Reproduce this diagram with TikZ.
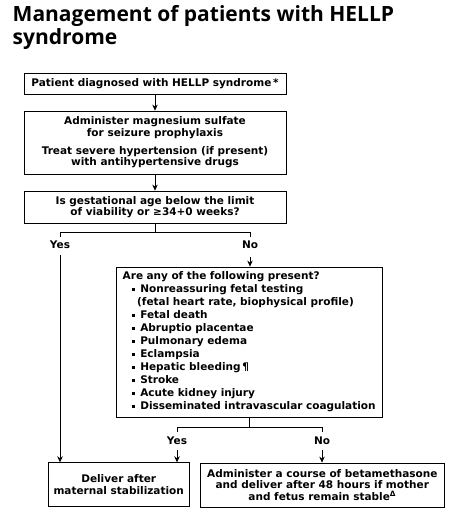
\documentclass[tikz,border=0pt]{standalone}
\usepackage{fontspec}
\setmainfont{DejaVu Sans}
\newfontfamily\titlefont{Open Sans}
\usetikzlibrary{arrows.meta}
\newcommand{\bul}{\rule[1.6pt]{3.6pt}{3.4pt}}
\tikzset{
  box/.style={draw, line width=0.8pt, inner sep=2pt, align=center,
    font=\bfseries\fontsize{10.5}{11.3}\selectfont},
  conn/.style={line width=0.8pt},
  arr/.style={conn, -{Stealth[length=6pt,width=5.5pt]}},
  lbl/.style={font=\bfseries\fontsize{10.5}{12}\selectfont, inner sep=0pt},
  ttl/.style={font=\titlefont\bfseries\fontsize{21}{24}\selectfont, inner sep=0pt, anchor=base west}
}
\begin{document}
\begin{tikzpicture}[x=1pt,y=-1pt]
\useasboundingbox[fill=white] (0,0) rectangle (455,515);
\node[ttl] (t1) at (12.5,21) {Management of patients with HELLP};
\node[ttl] (t2) at (12.5,44) {syndrome};

\node[box, minimum width=262pt, minimum height=21pt] (b1) at (155,83.5) {Patient diagnosed with HELLP syndrome\,*};
\node[box, minimum width=262pt, minimum height=63pt] (b2) at (155,142.5) {Administer magnesium sulfate\\for seizure prophylaxis\\[7pt]Treat severe hypertension (if present)\\with antihypertensive drugs};
\node[box, minimum width=262pt, minimum height=32pt] (b3) at (155,207) {Is gestational age below the limit\\of viability or ≥34+0 weeks?};

\node[box, align=left, text width=254pt, inner xsep=6pt, minimum height=150pt,
  font=\bfseries\fontsize{10.5}{13}\selectfont] (b4) at (249.7,342) {Are any of the following present?\\
\hspace*{9pt}\bul\hspace{5pt}Nonreassuring fetal testing\\
\hspace*{14.5pt}(fetal heart rate, biophysical profile)\\
\hspace*{9pt}\bul\hspace{5pt}Fetal death\\
\hspace*{9pt}\bul\hspace{5pt}Abruptio placentae\\
\hspace*{9pt}\bul\hspace{5pt}Pulmonary edema\\
\hspace*{9pt}\bul\hspace{5pt}Eclampsia\\
\hspace*{9pt}\bul\hspace{5pt}Hepatic bleeding\,¶\\
\hspace*{9pt}\bul\hspace{5pt}Stroke\\
\hspace*{9pt}\bul\hspace{5pt}Acute kidney injury\\
\hspace*{9pt}\bul\hspace{5pt}Disseminated intravascular coagulation};

\node[box, minimum width=140.7pt, minimum height=44pt] (b5) at (118.7,484.7) {Deliver after\\maternal stabilization};
\node[box, minimum width=244pt, minimum height=44pt] (b6) at (322.3,485) {Administer a course of betamethasone\\and deliver after 48 hours if mother\\and fetus remain stable\textsuperscript{Δ}};

\draw[arr] (b1) -- (b2);
\draw[arr] (b2) -- (b3);

% first branch
\coordinate (j1) at (155,232.3);
\coordinate (y1) at (60,232.3);
\coordinate (n1) at (250,232.3);
\node[lbl] (yes1) at (60,245) {Yes};
\node[lbl] (no1) at (250,245) {No};
\draw[conn] (b3.south) -- (j1);
\draw[conn] ([yshift=-4.5pt]y1) -- (y1) -- (n1) -- ([yshift=-4.5pt]n1);
\draw[arr] ([yshift=-6pt]yes1.south) -- (yes1.south |- b5.north);
\draw[arr] ([yshift=-8pt]no1.south) -- (no1.south |- b4.north);

% second branch
\coordinate (j2) at (249.7,427);
\coordinate (y2) at (177,427);
\coordinate (n2) at (322,427);
\node[lbl] (yes2) at (177,441) {Yes};
\node[lbl] (no2) at (322,441) {No};
\draw[conn] (b4.south) -- (j2);
\draw[conn] ([yshift=-4.5pt]y2) -- (y2) -- (n2) -- ([yshift=-4.5pt]n2);
\draw[arr] ([yshift=-5pt]yes2.south) -- (yes2.south |- b5.north);
\draw[arr] ([yshift=-5pt]no2.south) -- (no2.south |- b6.north);
\end{tikzpicture}
\end{document}
